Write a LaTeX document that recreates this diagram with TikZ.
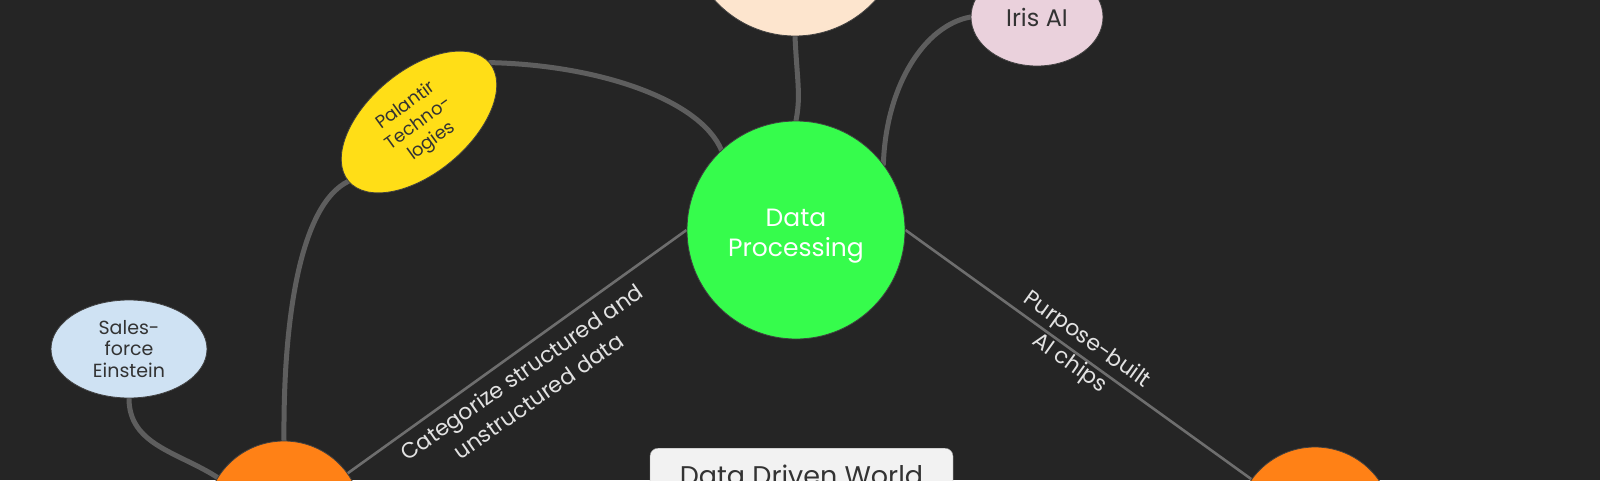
\documentclass[tikz,border=0pt]{standalone}
\usepackage{fontspec}
\setmainfont{Poppins}
\usetikzlibrary{shapes.geometric}
\definecolor{bgc}{HTML}{252525}
\definecolor{edgec}{HTML}{5E5E5E}
\definecolor{linec}{HTML}{6E6E6E}
\definecolor{greenc}{HTML}{36FC4C}
\definecolor{peachc}{HTML}{FDE5CE}
\definecolor{pinkc}{HTML}{EAD1DC}
\definecolor{yellowc}{HTML}{FFDE17}
\definecolor{bluec}{HTML}{CFE2F3}
\definecolor{orangec}{HTML}{FF8116}
\definecolor{boxc}{HTML}{F2F2F2}
\definecolor{txtc}{HTML}{333333}
\definecolor{lblc}{HTML}{E2E2E2}
\pgfdeclarelayer{bg}
\pgfdeclarelayer{edges}
\pgfsetlayers{bg,edges,main}
\tikzset{
  bubble/.style={circle, inner sep=0pt, draw=black!75, line width=0.8pt, align=center, text=txtc},
  oval/.style={ellipse, inner sep=0pt, draw=black!75, line width=0.8pt, align=center, text=txtc},
  curvy/.style={draw=edgec, line width=5pt, line cap=round},
  straight/.style={draw=linec, line width=2.6pt},
  edgelabel/.style={text=lblc, align=center, font=\fontsize{22}{29}\selectfont},
}
\begin{document}
\begin{tikzpicture}[x=1pt,y=-1pt]
\begin{pgfonlayer}{bg}
\fill[bgc] (0,0) rectangle (1600,480);
\end{pgfonlayer}
\useasboundingbox (0,0) rectangle (1600,480);
\clip (0,0) rectangle (1600,480);

\node[bubble, fill=greenc, minimum size=218pt] (green) at (796,230) {};
\node[text=white, align=center, font=\fontsize{25}{30}\selectfont] (greent) at (796,236) {Data\\Processing};
\node[bubble, fill=peachc, minimum size=216pt] (peach) at (795,-72) {};
\node[oval, fill=pinkc, minimum width=132pt, minimum height=98pt, font=\fontsize{24}{28}\selectfont] (iris) at (1037,17) {Iris AI};
\node[oval, fill=yellowc, minimum width=184pt, minimum height=102pt, rotate=40] (pal) at (419,122) {};
\node[text=txtc, align=center, rotate=36, font=\fontsize{18}{22}\selectfont] (palt) at (419,124) {Palantir\\Techno-\\logies};
\node[oval, fill=bluec, minimum width=156pt, minimum height=98pt, font=\fontsize{19}{21.5}\selectfont] (sales) at (129,349) {Sales-\\force\\Einstein};
\node[bubble, fill=orangec, minimum size=156pt] (orangeL) at (284,519) {};
\node[bubble, fill=orangec, minimum size=156pt] (orangeR) at (1315,525) {};
\node[draw=black!40, fill=boxc, rounded corners=8pt, minimum width=303pt, minimum height=80pt, anchor=north, inner sep=0pt] (title) at (801.5,448) {};
\node[text=txtc, font=\fontsize{27}{30}\selectfont, anchor=base] (titletext) at (801.5,485) {Data Driven World};

\begin{pgfonlayer}{edges}
\draw[curvy] (peach.south) .. controls (797,80) and (801,95) .. (green.north);
\draw[curvy] (iris.west) .. controls (925,25) and (886,85) .. (green.37);
\draw[curvy] (pal.east) .. controls (600,65) and (700,100) .. (green.133);
\draw[curvy] (pal.west) .. controls (300,205) and (283,320) .. (orangeL.north);
\draw[curvy] (sales.south) .. controls (129,445) and (178,452) .. (orangeL.148);
\draw[straight] (green.west) -- (orangeL);
\draw[straight] (green.east) -- (orangeR);
\end{pgfonlayer}

\node[edgelabel, rotate=35] (lblL) at (530,384) {Categorize structured and\\unstructured data};
\node[edgelabel, rotate=-35.4] (lblR) at (1078,352) {Purpose-built\\AI chips};
\end{tikzpicture}
\end{document}
